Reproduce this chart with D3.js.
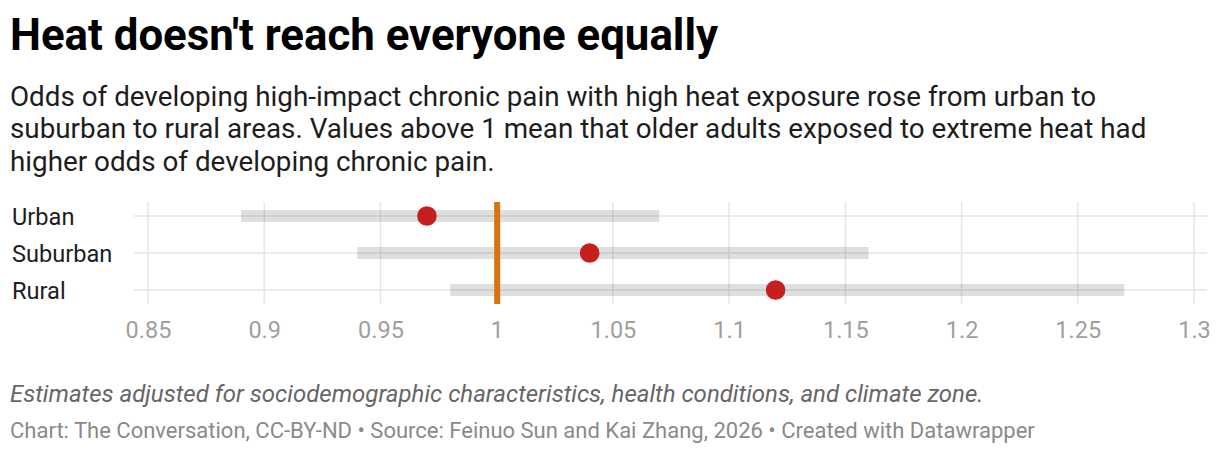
<!DOCTYPE html>
<html><head><meta charset="utf-8">
<script src="https://cdn.jsdelivr.net/npm/d3@7"></script>
<style>
body{margin:0;background:#fff;font-family:Roboto,sans-serif;}
</style></head>
<body><svg id="c" width="1220" height="456"></svg>
<script>
const categories = ["Urban", "Suburban", "Rural"];
const lowValues = [0.89, 0.94, 0.98];
const estimates = [0.97, 1.04, 1.12];
const highValues = [1.07, 1.16, 1.27];
const tickValues = [0.85, 0.9, 0.95, 1, 1.05, 1.1, 1.15, 1.2, 1.25, 1.3];
const referenceValue = 1;

const svg = d3.select("#c");
svg.append("text").attr("x", 10).attr("y", 50).attr("font-size", 43.8).attr("font-weight", 700).attr("fill", "#000")
  .text("Heat doesn't reach everyone equally");
const sub = ["Odds of developing high-impact chronic pain with high heat exposure rose from urban to",
  "suburban to rural areas. Values above 1 mean that older adults exposed to extreme heat had",
  "higher odds of developing chronic pain."];
sub.forEach((t, i) => svg.append("text").attr("x", 10).attr("y", 105.5 + i * 32.5).attr("font-size", 27.8).attr("fill", "#1d1d1d").text(t));

const x = d3.scaleLinear().domain([0.85, 1.3]).range([148, 1194]);
const y = d3.scalePoint().domain(categories).range([216, 290]);

const g = svg.append("g");
// vertical grid
g.selectAll(".vg").data(tickValues).join("line")
  .attr("x1", d => x(d)).attr("x2", d => x(d)).attr("y1", 202).attr("y2", 304)
  .attr("stroke", "#e6e6e6").attr("stroke-width", 1.5);
// row lines
g.selectAll(".hg").data(categories).join("line")
  .attr("x1", 134).attr("x2", 1207).attr("y1", d => y(d)).attr("y2", d => y(d))
  .attr("stroke", "#e6e6e6").attr("stroke-width", 1.5);
// range bars
g.selectAll(".bar").data(categories).join("rect")
  .attr("x", (d, i) => x(lowValues[i])).attr("width", (d, i) => x(highValues[i]) - x(lowValues[i]))
  .attr("y", d => y(d) - 6).attr("height", 12)
  .attr("fill", "#000").attr("fill-opacity", 0.125);
// reference line
g.append("line").attr("x1", x(referenceValue) + 0.5).attr("x2", x(referenceValue) + 0.5).attr("y1", 202).attr("y2", 304)
  .attr("stroke", "#d8730f").attr("stroke-width", 6);
// dots
g.selectAll(".dot").data(categories).join("circle")
  .attr("cx", (d, i) => x(estimates[i])).attr("cy", d => y(d)).attr("r", 9.8).attr("fill", "#c71f1f");

// row labels
g.selectAll(".rl").data(categories).join("text")
  .attr("x", 12).attr("y", d => y(d) + 8.5).attr("font-size", 23.6).attr("fill", "#1d1d1d").text(d => d);

// x axis
const ax = svg.append("g").attr("transform", "translate(0,304)")
  .call(d3.axisBottom(x).tickValues(tickValues).tickSize(0).tickFormat(d => String(+d.toFixed(2))));
ax.select(".domain").remove();
ax.selectAll("text").attr("font-size", 23.5).attr("fill", "#a0a0a0").attr("font-family", "Roboto").attr("dy", null).attr("y", 34);

svg.append("text").attr("x", 10).attr("y", 401.5).attr("font-size", 24).attr("font-style", "italic").attr("fill", "#666")
  .text("Estimates adjusted for sociodemographic characteristics, health conditions, and climate zone.");
svg.append("text").attr("x", 10).attr("y", 438).attr("font-size", 22).attr("fill", "#8a8a8a")
  .text("Chart: The Conversation, CC-BY-ND • Source: Feinuo Sun and Kai Zhang, 2026 • Created with Datawrapper");
</script></body></html>
